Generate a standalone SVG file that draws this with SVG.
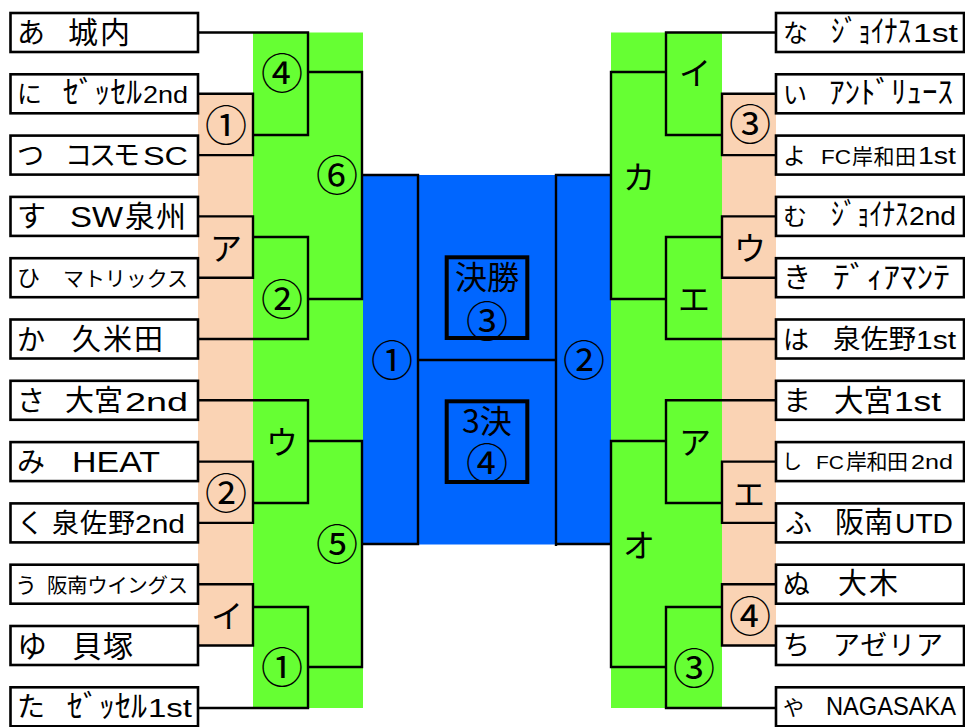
<svg xmlns="http://www.w3.org/2000/svg" width="965" height="727" viewBox="0 0 965 727">
<style>
text{font-family:"Noto Sans CJK JP","Noto Sans",sans-serif;fill:#000}
.box{fill:#fff;stroke:#000;stroke-width:2.6}
.ln{fill:none;stroke:#000;stroke-width:2.4}
.lb{font-size:32px;text-anchor:middle}
.cn{font-size:42px;text-anchor:middle}
.fin{fill:none;stroke:#000;stroke-width:4}
.lt{font-family:"Liberation Sans","Noto Sans CJK JP",sans-serif}
.hw{font-size:31px}
</style>
<rect x="0" y="0" width="965" height="727" fill="#fff"/>
<g id="bg">
<rect x="198" y="93.8" width="55" height="551.7" fill="#FAD3B4"/>
<rect x="253" y="32.5" width="110" height="675.5" fill="#66FF33"/>
<rect x="611" y="32.5" width="111" height="675.5" fill="#66FF33"/>
<rect x="722" y="93.8" width="54" height="551.7" fill="#FAD3B4"/>
<rect x="363" y="175" width="248" height="369.5" fill="#0066FF"/>
</g>
<g id="connectors">
<path class="ln" d="M198 32.5 H308 V135 H253"/>
<path class="ln" d="M198 93.8 H253 V155.1 H198"/>
<path class="ln" d="M308 72 H362 V299 H308"/>
<path class="ln" d="M198 216.4 H253 V277.7 H198"/>
<path class="ln" d="M253 237 H308 V339 H198"/>
<path class="ln" d="M198 400.3 H308 V503 H253"/>
<path class="ln" d="M198 461.6 H253 V522.9 H198"/>
<path class="ln" d="M308 441 H362 V667 H308"/>
<path class="ln" d="M198 584.2 H253 V645.5 H198"/>
<path class="ln" d="M253 607 H308 V708 H198"/>
<path class="ln" d="M363 175 H418 V544 H363"/>
<path class="ln" d="M418 360 H556"/>
<path class="ln" d="M611 175 H556 V546 M556 544 H611"/>
<path class="ln" d="M776 32.5 H666 V135 H722"/>
<path class="ln" d="M776 93.8 H722 V155.1 H776"/>
<path class="ln" d="M666 72 H611 V299 H666"/>
<path class="ln" d="M776 216.4 H722 V277.7 H776"/>
<path class="ln" d="M722 237 H666 V339 H776"/>
<path class="ln" d="M776 400.3 H666 V503 H722"/>
<path class="ln" d="M776 461.6 H722 V522.9 H776"/>
<path class="ln" d="M666 441 H611 V667 H666"/>
<path class="ln" d="M776 584.2 H722 V645.5 H776"/>
<path class="ln" d="M722 607 H666 V708 H776"/>
</g>
<g id="labels">
<text class="cn" x="282" y="89">④</text>
<text class="cn" x="226" y="141">①</text>
<text class="cn" x="337" y="191">⑥</text>
<text class="lb" x="226" y="260">ア</text>
<text class="cn" x="282" y="315">②</text>
<text class="lb" x="282" y="454">ウ</text>
<text class="cn" x="226" y="509">②</text>
<text class="cn" x="337" y="560">⑤</text>
<text class="lb" x="227" y="628">イ</text>
<text class="cn" x="282" y="683">①</text>
<text class="lb" x="695" y="85">イ</text>
<text class="cn" x="750" y="140">③</text>
<text class="lb" x="639" y="189">カ</text>
<text class="lb" x="750" y="260">ウ</text>
<text class="lb" x="694" y="311">エ</text>
<text class="lb" x="695" y="454">ア</text>
<text class="lb" x="749" y="506">エ</text>
<text class="lb" x="639" y="557">オ</text>
<text class="cn" x="750" y="632">④</text>
<text class="cn" x="694" y="684">③</text>
<text class="cn" x="392" y="376">①</text>
<text class="cn" x="584" y="376">②</text>
</g>
<g id="final">
<rect class="fin" x="446.7" y="257.3" width="80.6" height="80.7"/>
<text class="lb" x="487" y="289">決勝</text>
<text class="cn" x="487" y="337">③</text>
</g>
<g id="third">
<rect class="fin" x="446.7" y="401.3" width="80.6" height="80.7"/>
<text class="lb" x="487" y="433">3決</text>
<text class="cn" x="487" y="479">④</text>
</g>
<g id="team-a"><rect class="box" x="10.5" y="13" width="187.5" height="39"/><text x="17" y="43" font-size="28">あ<tspan x="68" font-size="30" textLength="62">城内</tspan></text></g>
<g id="team-ni"><rect class="box" x="10.5" y="74.3" width="187.5" height="39"/><text x="17" y="103" font-size="25">に<tspan class="hw" x="63" textLength="79" lengthAdjust="spacingAndGlyphs">ｾﾞｯｾﾙ</tspan><tspan class="lt" x="143" font-size="24" textLength="45" lengthAdjust="spacingAndGlyphs">2nd</tspan></text></g>
<g id="team-tsu"><rect class="box" x="10.5" y="135.6" width="187.5" height="39"/><text x="17" y="165" font-size="27">つ<tspan x="65" textLength="75">コスモ</tspan><tspan class="lt" x="143" font-size="26" textLength="45" lengthAdjust="spacingAndGlyphs">SC</tspan></text></g>
<g id="team-su"><rect class="box" x="10.5" y="196.9" width="187.5" height="39"/><text x="17" y="227" font-size="29">す<tspan class="lt" x="70" font-size="30" textLength="53" lengthAdjust="spacingAndGlyphs">SW</tspan><tspan x="125" font-size="30" textLength="61">泉州</tspan></text></g>
<g id="team-hi"><rect class="box" x="10.5" y="258.2" width="187.5" height="39"/><text x="17" y="286" font-size="23">ひ<tspan x="63" font-size="21" textLength="125">マトリックス</tspan></text></g>
<g id="team-ka"><rect class="box" x="10.5" y="319.5" width="187.5" height="39"/><text x="17" y="350" font-size="28">か<tspan x="72" font-size="29" textLength="91">久米田</tspan></text></g>
<g id="team-sa"><rect class="box" x="10.5" y="380.8" width="187.5" height="39"/><text x="17" y="411" font-size="28">さ<tspan x="65" font-size="29" textLength="58">大宮</tspan><tspan class="lt" x="125" font-size="26" textLength="63" lengthAdjust="spacingAndGlyphs">2nd</tspan></text></g>
<g id="team-mi"><rect class="box" x="10.5" y="442.1" width="187.5" height="39"/><text x="17" y="472" font-size="28">み<tspan class="lt" x="72" font-size="30" textLength="88" lengthAdjust="spacingAndGlyphs">HEAT</tspan></text></g>
<g id="team-ku"><rect class="box" x="10.5" y="503.4" width="187.5" height="39"/><text x="17" y="533" font-size="27">く<tspan x="52" font-size="27" textLength="83">泉佐野</tspan><tspan class="lt" x="135" font-size="25" textLength="50" lengthAdjust="spacingAndGlyphs">2nd</tspan></text></g>
<g id="team-u"><rect class="box" x="10.5" y="564.7" width="187.5" height="39"/><text x="15" y="593" font-size="22">う<tspan x="47" font-size="20.5" textLength="141">阪南ウイングス</tspan></text></g>
<g id="team-yu"><rect class="box" x="10.5" y="626" width="187.5" height="39"/><text x="17" y="657" font-size="30">ゆ<tspan x="72" textLength="61">貝塚</tspan></text></g>
<g id="team-ta"><rect class="box" x="10.5" y="687.3" width="187.5" height="39"/><text x="17" y="717" font-size="28">た<tspan class="hw" x="67" textLength="80" lengthAdjust="spacingAndGlyphs">ｾﾞｯｾﾙ</tspan><tspan class="lt" x="148" font-size="25" textLength="44" lengthAdjust="spacingAndGlyphs">1st</tspan></text></g>
<g id="team-na"><rect class="box" x="776" y="13" width="188" height="39"/><text x="783" y="42" font-size="25">な<tspan class="hw" x="831" textLength="80" lengthAdjust="spacingAndGlyphs">ｼﾞｮｲﾅｽ</tspan><tspan class="lt" x="913" font-size="25" textLength="45" lengthAdjust="spacingAndGlyphs">1st</tspan></text></g>
<g id="team-i"><rect class="box" x="776" y="74.3" width="188" height="39"/><text x="783" y="103" font-size="24">い<tspan class="hw" x="829" textLength="124" lengthAdjust="spacingAndGlyphs">ｱﾝﾄﾞﾘｭｰｽ</tspan></text></g>
<g id="team-yo"><rect class="box" x="776" y="135.6" width="188" height="39"/><text x="783" y="164" font-size="23">よ<tspan class="lt" x="821" font-size="21" textLength="30" lengthAdjust="spacingAndGlyphs">FC</tspan><tspan x="852" font-size="21" textLength="64">岸和田</tspan><tspan class="lt" x="918" font-size="24" textLength="38" lengthAdjust="spacingAndGlyphs">1st</tspan></text></g>
<g id="team-mu"><rect class="box" x="776" y="196.9" width="188" height="39"/><text x="783" y="225" font-size="24">む<tspan class="hw" x="831" textLength="77" lengthAdjust="spacingAndGlyphs">ｼﾞｮｲﾅｽ</tspan><tspan class="lt" x="909" font-size="25" textLength="47" lengthAdjust="spacingAndGlyphs">2nd</tspan></text></g>
<g id="team-ki"><rect class="box" x="776" y="258.2" width="188" height="39"/><text x="783" y="288" font-size="28">き<tspan class="hw" x="833" textLength="117" lengthAdjust="spacingAndGlyphs">ﾃﾞｨｱﾏﾝﾃ</tspan></text></g>
<g id="team-ha"><rect class="box" x="776" y="319.5" width="188" height="39"/><text x="783" y="349" font-size="26">は<tspan x="833" font-size="27.5" textLength="83">泉佐野</tspan><tspan class="lt" x="916" font-size="26" textLength="40" lengthAdjust="spacingAndGlyphs">1st</tspan></text></g>
<g id="team-ma"><rect class="box" x="776" y="380.8" width="188" height="39"/><text x="783" y="411" font-size="28">ま<tspan x="834" font-size="29.5" textLength="59">大宮</tspan><tspan class="lt" x="894" font-size="27" textLength="47" lengthAdjust="spacingAndGlyphs">1st</tspan></text></g>
<g id="team-shi"><rect class="box" x="776" y="442.1" width="188" height="39"/><text x="782" y="469" font-size="20">し<tspan class="lt" x="816" font-size="19" textLength="28" lengthAdjust="spacingAndGlyphs">FC</tspan><tspan x="846" font-size="21" textLength="62">岸和田</tspan><tspan class="lt" x="911" font-size="21" textLength="42" lengthAdjust="spacingAndGlyphs">2nd</tspan></text></g>
<g id="team-fu"><rect class="box" x="776" y="503.4" width="188" height="39"/><text x="785" y="533" font-size="27">ふ<tspan x="835" font-size="29" textLength="58">阪南</tspan><tspan class="lt" x="895" font-size="27" textLength="58" lengthAdjust="spacingAndGlyphs">UTD</tspan></text></g>
<g id="team-nu"><rect class="box" x="776" y="564.7" width="188" height="39"/><text x="783" y="594" font-size="27">ぬ<tspan x="838" font-size="29" textLength="60">大木</tspan></text></g>
<g id="team-chi"><rect class="box" x="776" y="626" width="188" height="39"/><text x="783" y="655" font-size="27">ち<tspan x="833" font-size="27" textLength="110">アゼリア</tspan></text></g>
<g id="team-ya"><rect class="box" x="776" y="687.3" width="188" height="39"/><text x="783" y="715" font-size="21">や<tspan class="lt" x="826" font-size="26" textLength="130" lengthAdjust="spacingAndGlyphs">NAGASAKA</tspan></text></g>
</svg>
